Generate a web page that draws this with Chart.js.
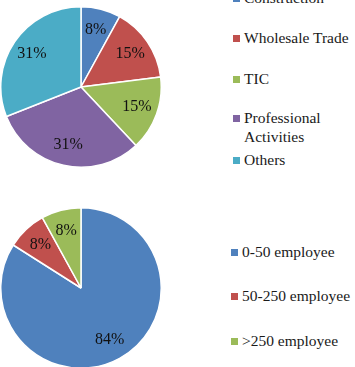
<!DOCTYPE html>
<html>
<head>
<meta charset="utf-8">
<script src="https://cdn.jsdelivr.net/npm/chart.js@4/dist/chart.umd.min.js"></script>
<style>
  html, body { margin: 0; padding: 0; background: #fff; overflow: hidden; }
  body { width: 355px; height: 367px; position: relative; font-family: "Liberation Serif", "Times New Roman", serif; }
  .pie { position: absolute; left: 0; }
  .legend { position: absolute; font-size: 15.5px; line-height: 19px; color: #1a1a1a; }
  .legend .item { position: absolute; left: 0; width: 112px; padding-left: 11px; }
  .legend .box { position: absolute; left: 0; top: 7px; width: 7px; height: 7px; }
</style>
</head>
<body>
<canvas id="industryChart" class="pie" width="162" height="162" style="top:6px"></canvas>
<div id="industryLegend" class="legend" style="left:233px; top:0"></div>
<canvas id="sizeChart" class="pie" width="162" height="162" style="top:207px"></canvas>
<div id="sizeLegend" class="legend" style="left:231px; top:0"></div>
<script>
// sector breakdown (top pie)
const industryLabels = ['Construction', 'Wholesale Trade', 'TIC', 'Professional Activities', 'Others'];
const industryShares = [8, 15, 15, 31, 31];
const industryColors = ['#4F81BD', '#C0504D', '#9BBB59', '#8064A2', '#4BACC6'];

// company size breakdown (bottom pie)
const sizeLabels = ['0-50 employee', '50-250 employee', '>250 employee'];
const sizeShares = [84, 8, 8];
const sizeColors = ['#4F81BD', '#C0504D', '#9BBB59'];

// legend item tops (px), layout only
const industryLegendTops = [-12, 28, 69, 108, 150];
const sizeLegendTops = [242, 286, 331];

// draws the "NN%" text inside each slice
const pctLabels = {
    id: 'pctLabels',
    afterDatasetsDraw(chart) {
        const ctx = chart.ctx;
        const values = chart.data.datasets[0].data;
        ctx.save();
        ctx.font = '16px "Liberation Serif", "Times New Roman", serif';
        ctx.fillStyle = '#111';
        ctx.textAlign = 'center';
        ctx.textBaseline = 'middle';
        chart.getDatasetMeta(0).data.forEach(function (arc, i) {
            const p = arc.getProps(['x', 'y', 'startAngle', 'endAngle', 'outerRadius'], true);
            const mid = (p.startAngle + p.endAngle) / 2;
            const r = p.outerRadius * 0.74;
            ctx.fillText(values[i] + '%', p.x + Math.cos(mid) * r, p.y + Math.sin(mid) * r);
        });
        ctx.restore();
    }
};

function makePie(id, labels, values, colors) {
    return new Chart(document.getElementById(id), {
        type: 'pie',
        data: {
            labels: labels,
            datasets: [{
                data: values,
                backgroundColor: colors,
                borderColor: '#fff',
                borderWidth: 1.5
            }]
        },
        options: {
            responsive: false,
            animation: false,
            layout: { padding: 0 },
            plugins: {
                legend: { display: false },
                tooltip: { enabled: false }
            }
        },
        plugins: [pctLabels]
    });
}

function buildLegend(chart, el, tops) {
    const colors = chart.data.datasets[0].backgroundColor;
    chart.data.labels.forEach(function (label, i) {
        const item = document.createElement('div');
        item.className = 'item';
        item.style.top = tops[i] + 'px';
        const box = document.createElement('span');
        box.className = 'box';
        box.style.background = colors[i];
        item.appendChild(box);
        item.appendChild(document.createTextNode(label));
        el.appendChild(item);
    });
}

const industryChart = makePie('industryChart', industryLabels, industryShares, industryColors);
const sizeChart = makePie('sizeChart', sizeLabels, sizeShares, sizeColors);
buildLegend(industryChart, document.getElementById('industryLegend'), industryLegendTops);
buildLegend(sizeChart, document.getElementById('sizeLegend'), sizeLegendTops);
</script>
</body>
</html>
